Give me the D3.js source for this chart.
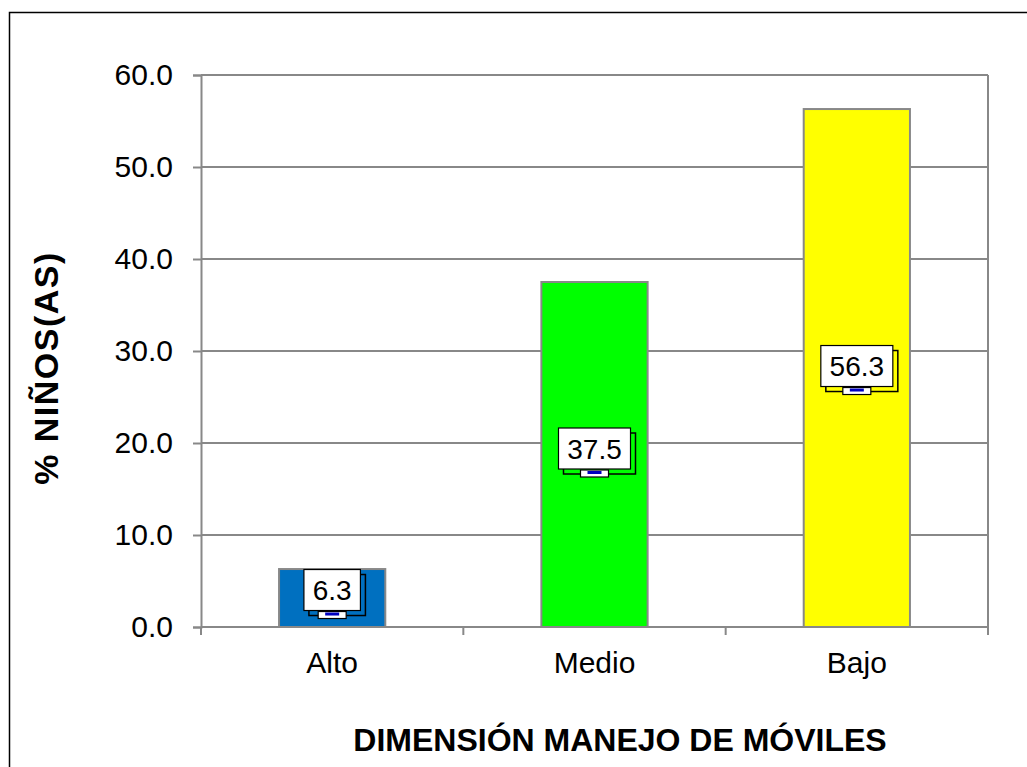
<!DOCTYPE html>
<html>
<head>
<meta charset="utf-8">
<script src="https://cdn.jsdelivr.net/npm/d3@7"></script>
<style>
  body { margin: 0; background: #fff; }
  svg { display: block; font-family: "Liberation Sans", Arial, sans-serif; }
</style>
</head>
<body>
<svg id="chart" width="1027" height="767"></svg>
<script>
const categories = ['Alto', 'Medio', 'Bajo'];
const values = [6.3, 37.5, 56.3];
const barColors = ['#0070c0', '#00ff00', '#ffff00'];
const yTicks = [0, 10, 20, 30, 40, 50, 60];

const svg = d3.select('#chart');
const margin = {top: 75, left: 201, right: 39, bottom: 140};
const width = 1027, height = 767;
const innerWidth = width - margin.left - margin.right;
const innerHeight = height - margin.top - margin.bottom;

// outer frame (runs off the right/bottom edge like the original)
svg.append('rect')
  .attr('x', 9.5).attr('y', 12.5)
  .attr('width', 1040).attr('height', 780)
  .attr('fill', 'none').attr('stroke', '#000').attr('stroke-width', 1.5);

const g = svg.append('g').attr('transform', 'translate(' + margin.left + ',' + margin.top + ')');

const x = d3.scaleBand().domain(categories).range([0, innerWidth]).padding(0);
const y = d3.scaleLinear().domain([0, 60]).range([innerHeight, 0]);
const barW = x.bandwidth() * 0.405;

// grid lines
g.selectAll('.grid')
  .data(yTicks.slice(1))
  .enter().append('line')
  .attr('x1', 0).attr('x2', innerWidth)
  .attr('y1', d => y(d)).attr('y2', d => y(d))
  .attr('stroke', '#888').attr('stroke-width', 2);

// plot border (right)
g.append('line')
  .attr('x1', innerWidth).attr('x2', innerWidth)
  .attr('y1', 0).attr('y2', innerHeight)
  .attr('stroke', '#888').attr('stroke-width', 2);

// bars
g.selectAll('.bar')
  .data(values)
  .enter().append('rect')
  .attr('x', (d, i) => x(categories[i]) + x.bandwidth() / 2 - barW / 2)
  .attr('y', d => y(d))
  .attr('width', barW)
  .attr('height', d => innerHeight - y(d))
  .attr('fill', (d, i) => barColors[i])
  .attr('stroke', '#888').attr('stroke-width', 2);

// axes
const yAxis = g.append('g')
  .call(d3.axisLeft(y).tickValues(yTicks).tickFormat(d3.format('.1f')).tickSize(8).tickPadding(20));
const xAxis = g.append('g')
  .attr('transform', 'translate(0,' + innerHeight + ')')
  .call(d3.axisBottom(x).tickSize(0).tickPadding(25));

[yAxis, xAxis].forEach(a => {
  a.select('.domain').attr('stroke', '#888').attr('stroke-width', 2);
  a.selectAll('line').attr('stroke', '#888').attr('stroke-width', 2);
  a.selectAll('text').attr('fill', '#000').attr('font-size', 30).attr('font-family', '"Liberation Sans", Arial, sans-serif');
});
xAxis.select('.domain').attr('d', 'M0,0H' + innerWidth);

// x ticks between categories
g.selectAll('.xtick')
  .data([0, 1, 2, 3])
  .enter().append('line')
  .attr('x1', d => d * x.bandwidth()).attr('x2', d => d * x.bandwidth())
  .attr('y1', innerHeight).attr('y2', innerHeight + 8)
  .attr('stroke', '#888').attr('stroke-width', 2);

// data labels
const labelOffsets = [-8, -6, -2];
const lab = g.selectAll('.lab')
  .data(values)
  .enter().append('g')
  .attr('transform', (d, i) => 'translate(' + (x(categories[i]) + x.bandwidth() / 2) + ',' + (y(d / 2) + labelOffsets[i]) + ')');

lab.each(function(d) {
  const s = d3.select(this);
  const txt = d3.format('.1f')(d);
  const w = txt.length * 15.5 + 10;
  const h = 41;
  s.append('rect')
    .attr('x', -w / 2 + 5).attr('y', -h / 2 + 5)
    .attr('width', w).attr('height', h)
    .attr('fill', 'none').attr('stroke', '#000').attr('stroke-width', 1.5);
  s.append('rect')
    .attr('x', -14).attr('y', h / 2 + 1)
    .attr('width', 28).attr('height', 7)
    .attr('fill', '#fff').attr('stroke', '#000').attr('stroke-width', 1.2);
  s.append('rect')
    .attr('x', -7).attr('y', h / 2 + 2)
    .attr('width', 14).attr('height', 3)
    .attr('fill', '#0000c0');
  s.append('rect')
    .attr('x', -w / 2).attr('y', -h / 2)
    .attr('width', w).attr('height', h)
    .attr('fill', '#fff').attr('stroke', '#000').attr('stroke-width', 1.2);
  s.append('text')
    .attr('text-anchor', 'middle')
    .attr('dy', '0.36em')
    .attr('font-size', 28)
    .text(txt);
});

// axis titles
svg.append('text')
  .attr('transform', 'translate(58,368) rotate(-90)')
  .attr('text-anchor', 'middle')
  .attr('font-size', 34).attr('font-weight', 'bold')
  .attr('letter-spacing', 1.5)
  .text('% NIÑOS(AS)');

svg.append('text')
  .attr('x', 620).attr('y', 751)
  .attr('text-anchor', 'middle')
  .attr('font-size', 32).attr('font-weight', 'bold')
  .text('DIMENSIÓN MANEJO DE MÓVILES');
</script>
</body>
</html>
